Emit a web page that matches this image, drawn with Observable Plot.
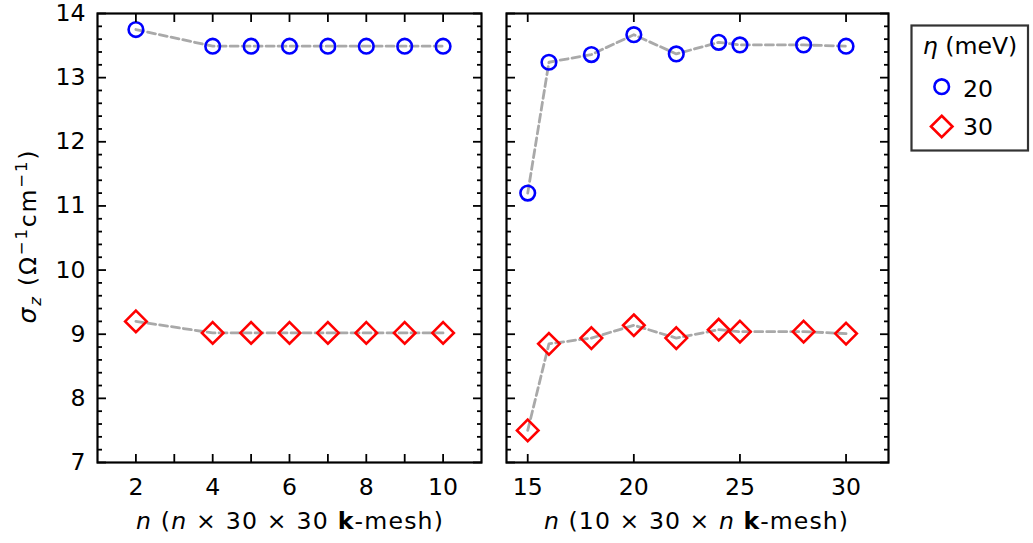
<!DOCTYPE html>
<html><head><meta charset="utf-8">
<script src="https://cdn.jsdelivr.net/npm/d3@7"></script>
<script src="https://cdn.jsdelivr.net/npm/@observablehq/plot@0.6"></script>
<style>
body{margin:0;background:#fff;}
#chart{position:relative;width:1033px;height:543px;font-family:"DejaVu Sans",sans-serif;}
#chart > svg{position:absolute;top:0;}
</style></head><body><div id="chart"></div>
<script>
// ---- data ----
const leftN   = [2, 4, 5, 6, 7, 8, 9, 10];
const leftS20 = [13.75, 13.49, 13.49, 13.49, 13.49, 13.49, 13.49, 13.49];
const leftS30 = [9.20, 9.02, 9.02, 9.02, 9.02, 9.02, 9.02, 9.02];
const rightN   = [15, 16, 18, 20, 22, 24, 25, 28, 30];
const rightS20 = [11.20, 13.24, 13.36, 13.67, 13.37, 13.55, 13.51, 13.51, 13.49];
const rightS30 = [7.50, 8.85, 8.94, 9.14, 8.94, 9.07, 9.04, 9.04, 9.01];
const etaLabels = ["20", "30"];
const yTicks = [7, 8, 9, 10, 11, 12, 13, 14];
const yMinor = d3.range(7, 14.0001, 0.2).filter(v => Math.abs(v - Math.round(v)) > 1e-6);
const leftXTicks = [2, 3, 4, 5, 6, 7, 8, 9, 10];
const leftXLabels = [2, 4, 6, 8, 10];
const rightXTicks = [15, 20, 25, 30];
const rightXLabels = [15, 20, 25, 30];

const BLUE = "#0000ff", RED = "#ff0000";
const FS = "23.6px";

function rows(n, s) { return n.map((v, i) => ({n: v, s: s[i]})); }

function panel({n, s20, s30, xDomain, xTicks, xLabels, width, ml, mr, yLabels}) {
  const r20 = rows(n, s20), r30 = rows(n, s30);
  const lineOpts = {x: "n", y: "s", stroke: "#a9a9a9", strokeWidth: 2.8, strokeDasharray: "8,4"};
  const blank = () => "";
  return Plot.plot({
    width, height: 543,
    marginLeft: ml, marginRight: mr, marginTop: 13, marginBottom: 81,
    x: {domain: xDomain},
    y: {domain: [7, 14]},
    style: {fontFamily: '"DejaVu Sans", sans-serif', fontSize: FS, color: "black", background: "transparent", overflow: "visible"},
    marks: [
      Plot.line(r20, lineOpts),
      Plot.line(r30, lineOpts),
      Plot.dot(r20, {x: "n", y: "s", r: 7.3, symbol: "circle", stroke: BLUE, strokeWidth: 2.6, fill: "none"}),
      Plot.dot(r30, {x: "n", y: "s", r: 9.7, symbol: "diamond2", stroke: RED, strokeWidth: 2.6, fill: "none"}),
      Plot.axisY({anchor: "left", ticks: yTicks, tickSize: -9, tickPadding: 21, tickFormat: yLabels ? (d => String(d)) : blank, label: null, strokeWidth: 1.8}),
      Plot.axisY({anchor: "left", ticks: yMinor, tickSize: -5, tickFormat: blank, label: null, strokeWidth: 1.8}),
      Plot.axisY({anchor: "right", ticks: yTicks, tickSize: -9, tickFormat: blank, label: null, strokeWidth: 1.8}),
      Plot.axisY({anchor: "right", ticks: yMinor, tickSize: -5, tickFormat: blank, label: null, strokeWidth: 1.8}),
      Plot.axisX({anchor: "bottom", ticks: xTicks, tickSize: -8, tickPadding: 24, tickFormat: d => xLabels.includes(d) ? String(d) : "", label: null, strokeWidth: 1.8}),
      Plot.axisX({anchor: "top", ticks: xTicks, tickSize: -8, tickFormat: blank, label: null, strokeWidth: 1.8}),
      Plot.frame({stroke: "black", strokeWidth: 2.2})
    ]
  });
}

const chart = document.getElementById("chart");
const left = panel({n: leftN, s20: leftS20, s30: leftS30, xDomain: [1, 11], xTicks: leftXTicks, xLabels: leftXLabels, width: 490, ml: 97, mr: 9, yLabels: true});
left.style.left = "0px";
const right = panel({n: rightN, s20: rightS20, s30: rightS30, xDomain: [14, 32], xTicks: rightXTicks, xLabels: rightXLabels, width: 410, ml: 16, mr: 12, yLabels: false});
right.style.left = "490px";
chart.appendChild(left);
chart.appendChild(right);

// ---- overlay: axis titles and legend ----
const ov = d3.select(chart).append("svg").attr("width", 1033).attr("height", 543)
  .style("left", "0px").style("pointer-events", "none")
  .attr("font-family", '"DejaVu Sans", sans-serif').attr("font-size", FS).attr("fill", "black");

// y label
const yl = ov.append("text").attr("transform", "translate(36,237) rotate(-90)").attr("text-anchor", "middle")
  .attr("textLength", 173).attr("lengthAdjust", "spacing");
yl.append("tspan").attr("font-style", "italic").attr("font-size", "25px").text("σ");
yl.append("tspan").attr("font-style", "italic").attr("font-size", "16.5px").attr("dy", 5).text("z");
yl.append("tspan").attr("dy", -5).text(" (Ω");
yl.append("tspan").attr("font-size", "16.5px").attr("dy", -9.5).text("−1");
yl.append("tspan").attr("dy", 9.5).text("cm");
yl.append("tspan").attr("font-size", "16.5px").attr("dy", -9.5).text("−1");
yl.append("tspan").attr("dy", 9.5).text(")");

// x labels
function xLabel(cx, len, parts) {
  const t = ov.append("text").attr("x", cx).attr("y", 529).attr("text-anchor", "middle")
    .attr("textLength", len).attr("lengthAdjust", "spacing");
  parts.forEach(([s, st]) => {
    const sp = t.append("tspan").text(s);
    if (st === "i") sp.attr("font-style", "italic");
    if (st === "b") sp.attr("font-weight", "bold");
  });
}
xLabel(289.5, 307, [["n", "i"], [" (", ""], ["n", "i"], [" × 30 × 30 ", ""], ["k", "b"], ["-mesh)", ""]]);
xLabel(696, 304, [["n", "i"], [" (10 × 30 × ", ""], ["n", "i"], [" ", ""], ["k", "b"], ["-mesh)", ""]]);

// legend
const lg = ov.append("g");
lg.append("rect").attr("x", 911.5).attr("y", 25.5).attr("width", 116.5).attr("height", 125)
  .attr("fill", "white").attr("stroke", "#333").attr("stroke-width", 2.2);
const lt = lg.append("text").attr("x", 970).attr("y", 54).attr("text-anchor", "middle");
lt.append("tspan").attr("font-style", "italic").text("η");
lt.append("tspan").text(" (meV)");
lg.append("path").attr("transform", "translate(941.7,86.7)")
  .attr("d", d3.symbol(d3.symbolCircle, Math.PI * 7.3 * 7.3)()).attr("fill", "none").attr("stroke", BLUE).attr("stroke-width", 2.6);
lg.append("text").attr("x", 963).attr("y", 96.5).text(etaLabels[0]);
lg.append("path").attr("transform", "translate(941.7,126.5)")
  .attr("d", d3.symbol(d3.symbolDiamond2, Math.PI * 9.7 * 9.7)()).attr("fill", "none").attr("stroke", RED).attr("stroke-width", 2.6);
lg.append("text").attr("x", 963).attr("y", 135).text(etaLabels[1]);
</script>
</body></html>
